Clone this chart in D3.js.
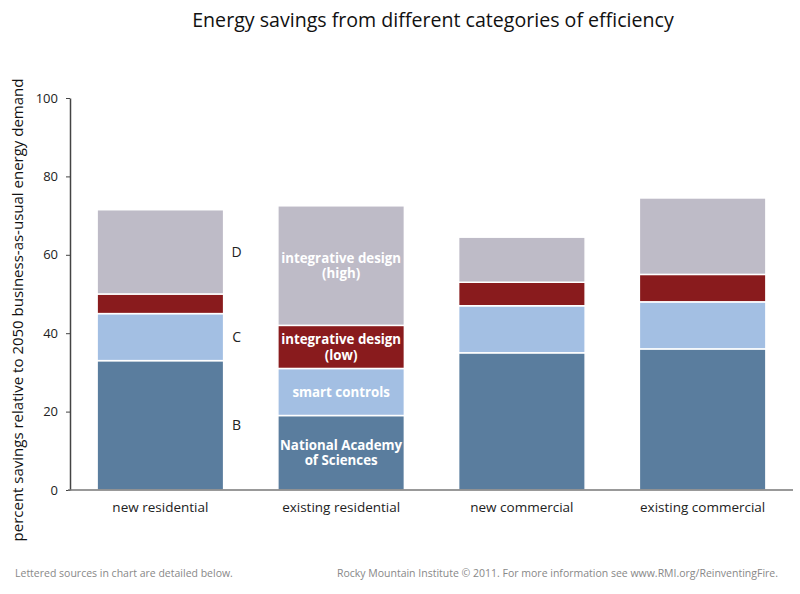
<!doctype html>
<html lang="en">
  <head>
    <meta charset="utf-8"/>
    <title>Energy savings</title>
    <script src="https://d3js.org/d3.v7.min.js"></script>
    <style>
      body { margin: 0; background: #fff; }
      text { font-family: "Open Sans", "Noto Sans", sans-serif; }
    </style>
  </head>
  <body>
  <div id="chart"></div>
  <script>
    // categories and the stacked segment values (percent)
    var categories = ["new residential", "existing residential", "new commercial", "existing commercial"];
    var seriesNames = ["National Academy of Sciences", "smart controls", "integrative design (low)", "integrative design (high)"];
    var nas        = [33, 19, 35, 36];
    var smart      = [12, 12, 12, 12];
    var idLow      = [5, 11, 6, 7];
    var idHigh     = [21.5, 30.5, 11.5, 19.5];
    var yTicks = [0, 20, 40, 60, 80, 100];
    var sourceLetters = ["B", "C", null, "D"];
    var segLabels = [["National Academy", "of Sciences"], ["smart controls"], ["integrative design", "(low)"], ["integrative design", "(high)"]];

    var colors = ["#5a7d9e", "#a3bfe3", "#891b1d", "#bebbc7"];

    var w = 800, h = 594;
    var mLeft = 70, mRight = 793, mTop = 98, mBottom = 490;

    var svg = d3.select("#chart").append("svg")
      .attr("width", w)
      .attr("height", h);

    var rows = categories.map(function(c, i) {
      return { cat: c, s0: nas[i], s1: smart[i], s2: idLow[i], s3: idHigh[i] };
    });
    var stack = d3.stack().keys(["s0", "s1", "s2", "s3"])(rows);

    var xScale = d3.scaleBand()
      .domain(categories)
      .range([mLeft, mRight])
      .paddingInner(0.3)
      .paddingOuter(0.15);

    var yScale = d3.scaleLinear()
      .domain([0, 100])
      .range([mBottom, mTop]);

    //bars
    svg.selectAll("g.layer")
      .data(stack)
      .enter()
      .append("g")
      .attr("class", "layer")
      .attr("fill", function(d, i) { return colors[i]; })
      .selectAll("rect")
      .data(function(d) { return d; })
      .enter()
      .append("rect")
      .attr("x", function(d) { return xScale(d.data.cat); })
      .attr("y", function(d) { return yScale(d[1]); })
      .attr("width", xScale.bandwidth())
      .attr("height", function(d) { return yScale(d[0]) - yScale(d[1]); })
      .attr("stroke", "#fff")
      .attr("stroke-width", 1.5);

    //Y axis
    var yAxis = d3.axisLeft(yScale).tickValues(yTicks).tickSize(4).tickSizeOuter(0);
    var gy = svg.append("g")
      .attr("transform", "translate(" + mLeft + ",0)")
      .call(yAxis);
    gy.select(".domain").attr("stroke", "#444").attr("stroke-width", 1.5);
    gy.selectAll(".tick line").attr("stroke", "#444");
    gy.selectAll(".tick text")
      .attr("x", -12)
      .attr("font-size", "13px")
      .attr("fill", "#222")
      .attr("font-family", "'Open Sans', sans-serif");

    //X axis
    var xAxis = d3.axisBottom(xScale).tickSize(0).tickSizeOuter(0);
    var gx = svg.append("g")
      .attr("transform", "translate(0," + mBottom + ")")
      .call(xAxis);
    gx.select(".domain").attr("stroke", "#777").attr("stroke-width", 1.5)
      .attr("d", "M" + (mLeft - 2) + ",0H" + mRight);
    gx.selectAll(".tick text")
      .attr("y", 12)
      .attr("font-size", "13.5px")
      .attr("fill", "#222")
      .attr("font-family", "'Open Sans', sans-serif");

    //source letters next to first bar
    var first = stack.map(function(s) { return s[0]; });
    svg.selectAll("text.letter")
      .data(first.filter(function(d, i) { return sourceLetters[i]; }))
      .enter()
      .append("text")
      .attr("class", "letter")
      .attr("x", xScale(categories[0]) + xScale.bandwidth() + 13)
      .attr("y", function(d) { return yScale((d[0] + d[1]) / 2); })
      .attr("dy", "0.35em")
      .attr("text-anchor", "middle")
      .attr("font-size", "14px")
      .attr("fill", "#222")
      .text(function(d) {
        return sourceLetters[first.indexOf(d)];
      });

    //segment labels on second bar
    var second = stack.map(function(s, i) { return { seg: s[1], lines: segLabels[i] }; });
    var lbl = svg.selectAll("text.seg")
      .data(second)
      .enter()
      .append("text")
      .attr("class", "seg")
      .attr("text-anchor", "middle")
      .attr("font-size", "13.3px")
      .attr("font-weight", "bold")
      .attr("fill", "#fff")
      .attr("x", xScale(categories[1]) + xScale.bandwidth() / 2)
      .attr("y", function(d) { return yScale((d.seg[0] + d.seg[1]) / 2); });
    lbl.selectAll("tspan")
      .data(function(d) { return d.lines.map(function(t, j) { return { t: t, j: j, n: d.lines.length }; }); })
      .enter()
      .append("tspan")
      .attr("x", xScale(categories[1]) + xScale.bandwidth() / 2)
      .attr("dy", function(d) { return d.j === 0 ? ((0.35 - (d.n - 1) * 0.55) + "em") : "1.15em"; })
      .text(function(d) { return d.t; });

    //title
    svg.append("text")
      .attr("x", 433)
      .attr("y", 27)
      .attr("text-anchor", "middle")
      .attr("font-size", "19.6px")
      .attr("fill", "#111")
      .text("Energy savings from different categories of efficiency");

    //y label
    svg.append("text")
      .attr("transform", "translate(23," + 310 + ") rotate(-90)")
      .attr("text-anchor", "middle")
      .attr("font-size", "15px")
      .attr("fill", "#111")
      .text("percent savings relative to 2050 business-as-usual energy demand");

    //footer
    svg.append("text")
      .attr("x", 15)
      .attr("y", 577)
      .attr("font-size", "10.5px")
      .attr("fill", "#888")
      .text("Lettered sources in chart are detailed below.");
    svg.append("text")
      .attr("x", 778)
      .attr("y", 577)
      .attr("text-anchor", "end")
      .attr("font-size", "10.5px")
      .attr("fill", "#888")
      .text("Rocky Mountain Institute \u00a9 2011. For more information see www.RMI.org/ReinventingFire.");
  </script>
  </body>
</html>
